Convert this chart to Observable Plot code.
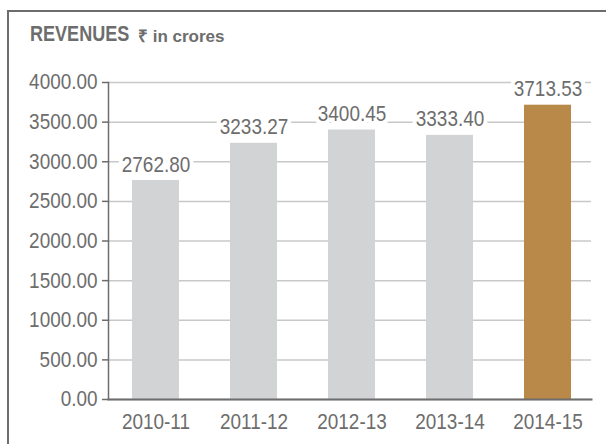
<!DOCTYPE html>
<html><head><meta charset="utf-8">
<script src="https://cdn.jsdelivr.net/npm/d3@7"></script>
<script src="https://cdn.jsdelivr.net/npm/@observablehq/plot@0.6"></script>
<style>
body{margin:0;background:#fff}
#wrap{position:relative;width:606px;height:444px;overflow:hidden;background:#fff}
#frame{position:absolute;left:7px;top:10px;width:640px;height:500px;border-top:2px solid #6d6d6d;border-left:2px solid #6d6d6d}
.ttl{position:absolute;white-space:nowrap;color:#6d6d6d;font-family:"Liberation Sans",Arial,sans-serif;font-weight:bold}
#t1{left:30px;top:22px;font-size:22px;line-height:24px;transform:scaleX(0.82);transform-origin:0 0}
#t2{left:138px;top:27px;font-size:17px;line-height:19px}
#chart{position:absolute;left:0;top:64px}
</style></head>
<body>
<div id="wrap">
  <div id="frame"></div>
  <div class="ttl" id="t1">REVENUES</div>
  <div class="ttl" id="t2">₹ in crores</div>
  <div id="chart"></div>
</div>
<script>
const years = ["2010-11", "2011-12", "2012-13", "2013-14", "2014-15"];
const revenues = [2762.80, 3233.27, 3400.45, 3333.40, 3713.53];
const yTicks = [0, 500, 1000, 1500, 2000, 2500, 3000, 3500, 4000];
const highlightYear = "2014-15";

const grayBar = "#d1d3d4";
const goldBar = "#b9894a";
const textColor = "#6d6d6d";

const data = years.map((year, i) => ({year, value: revenues[i]}));
const font = "'Liberation Sans', Arial, sans-serif";

const chart = Plot.plot({
  width: 606,
  height: 380,
  marginTop: 18,
  marginBottom: 45,
  marginLeft: 108,
  marginRight: 15,
  style: {fontFamily: font, fontSize: "21.5px", color: textColor, background: "transparent"},
  x: {domain: years, paddingInner: 0.52, paddingOuter: 0.218, align: 0.537, axis: null},
  y: {domain: [0, 4000], axis: null},
  color: {type: "identity"},
  marks: [
    Plot.ruleY(yTicks, {stroke: "#c8c8c8", strokeWidth: 1.5}),
    Plot.barY(data, {x: "year", y: "value", fill: d => d.year === highlightYear ? goldBar : grayBar}),
    Plot.frame({anchor: "bottom", stroke: textColor, strokeWidth: 2}),
    Plot.frame({anchor: "left", stroke: textColor, strokeWidth: 1.5}),
    Plot.text(data, {x: "year", y: "value", text: d => d.value.toFixed(2), lineAnchor: "bottom", dy: -9,
      fill: textColor, stroke: "white", strokeWidth: 9, fontSize: 21.5}),
    Plot.axisY({ticks: yTicks, tickFormat: d => d.toFixed(2), tickSize: 6, tickPadding: 5, label: null,
      color: textColor, fontSize: 21.5, strokeWidth: 1.5}),
    Plot.axisX({tickSize: 0, tickPadding: 14, label: null, color: textColor, fontSize: 21.5})
  ]
});
document.getElementById("chart").appendChild(chart);
// condense the glyphs horizontally (the reference uses a condensed face)
chart.querySelectorAll("text").forEach(t => {
  const w = t.getComputedTextLength();
  if (w > 0) {
    t.setAttribute("textLength", (w * 0.88).toFixed(1));
    t.setAttribute("lengthAdjust", "spacingAndGlyphs");
  }
});
</script>
</body></html>
